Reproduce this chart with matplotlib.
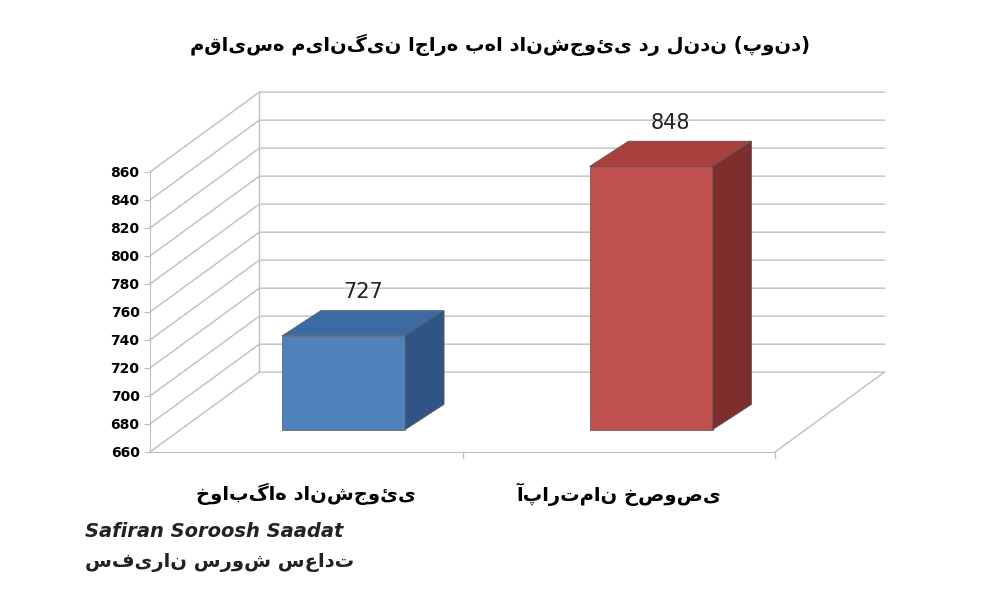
import matplotlib
matplotlib.use("Agg")
import matplotlib.pyplot as plt
from matplotlib.patches import Polygon

plt.rcParams['font.family'] = ['DejaVu Sans']

title = "مقایسه میانگین اجاره بها دانشجوئی در لندن (پوند)"
categories = ["خوابگاه دانشجوئی", "آپارتمان خصوصی"]
values = [727, 848]
yticks = [660, 680, 700, 720, 740, 760, 780, 800, 820, 840, 860]
front_colors = ["#4f81bd", "#c0504d"]
top_colors = ["#3c6aa3", "#a8403d"]
side_colors = ["#2f5485", "#7d2e2c"]

fig = plt.figure(figsize=(10, 6), dpi=100)
ax = fig.add_axes([0.15, 0.2467, 0.625, 0.4667])
ax.set_xlim(0, 1)
ax.set_ylim(660, 860)
ymin = 660
DX, DY = 0.175, 57.0          # wall depth
SX, SY = 0.052, 16.0          # bar front shift
BX, BY = 0.062, 18.0          # bar depth
gc = "#bfbfbf"

for v in yticks:
    ax.plot([0, DX, 1 + DX], [v, v + DY, v + DY], color=gc, lw=1, clip_on=False)
ax.plot([DX, DX], [ymin + DY, yticks[-1] + DY], color=gc, lw=1, clip_on=False)
ax.plot([1, 1 + DX], [ymin, ymin + DY], color=gc, lw=1, clip_on=False)
ax.plot([0.5, 0.5], [ymin, ymin - 4], color=gc, lw=1, clip_on=False)
ax.plot([1, 1], [ymin, ymin - 4], color=gc, lw=1, clip_on=False)

centers = [0.258, 0.75]
w = 0.197
for c, v, fc, tc, sc in zip(centers, values, front_colors, top_colors, side_colors):
    x0, x1 = c - w / 2 + SX, c + w / 2 + SX
    y0, y1 = ymin + SY, v + SY
    ax.add_patch(Polygon([(x0, y0), (x1, y0), (x1, y1), (x0, y1)], closed=True, fc=fc, ec="#555555", lw=0.5, clip_on=False, zorder=3))
    ax.add_patch(Polygon([(x0, y1), (x1, y1), (x1 + BX, y1 + BY), (x0 + BX, y1 + BY)], closed=True, fc=tc, ec="#555555", lw=0.5, clip_on=False, zorder=3))
    ax.add_patch(Polygon([(x1, y0), (x1 + BX, y0 + BY), (x1 + BX, y1 + BY), (x1, y1)], closed=True, fc=sc, ec="#555555", lw=0.5, clip_on=False, zorder=3))
    ax.text(c + SX + BX / 2, y1 + BY + 6, str(v), ha="center", va="bottom", fontsize=15, color="#222222", zorder=4)

for s in ["top", "right"]:
    ax.spines[s].set_visible(False)
ax.spines["bottom"].set_color(gc)
ax.spines["left"].set_color(gc)
ax.set_yticks(yticks)
ax.set_yticklabels([str(t) for t in yticks], fontweight="bold", fontsize=10)
ax.tick_params(axis="y", length=4, color=gc)
ax.set_xticks([0.25, 0.75])
ax.set_xticklabels(categories, fontweight="bold", fontsize=14)
ax.tick_params(axis="x", length=0, pad=22)

fig.text(0.5, 0.925, title, ha="center", va="center", fontsize=14, fontweight="bold")
fig.text(0.085, 0.105, "Safiran Soroosh Saadat", fontsize=14, fontweight="bold", style="italic", color="#222222")
fig.text(0.085, 0.055, "سفیران سروش سعادت", fontsize=14, fontweight="bold", color="#222222")

fig.savefig("out.png", dpi=100)
